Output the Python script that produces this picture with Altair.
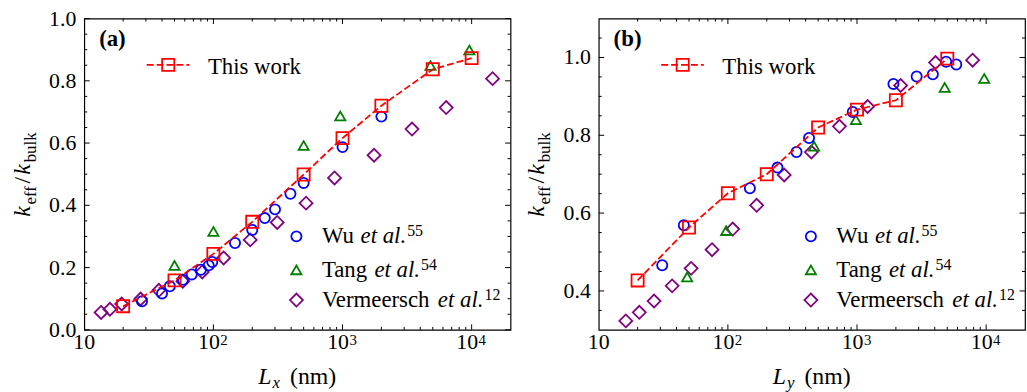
import altair as alt
import pandas as pd

FONT = "Liberation Serif"
W, H = 430, 314
X_DOMAIN = [10, 20000]

# ---------------- panel (a) data ----------------
a_this_x = [20, 50, 100, 200, 500, 1000, 2000, 5000, 10000]
a_this_y = [0.076, 0.159, 0.244, 0.347, 0.499, 0.616, 0.720, 0.837, 0.873]

a_wu_x = [28, 40, 46, 58, 68, 80, 92, 98, 147, 200, 250, 300, 395, 500, 1000, 2000]
a_wu_y = [0.092, 0.117, 0.140, 0.161, 0.178, 0.193, 0.207, 0.218, 0.279, 0.321,
          0.359, 0.387, 0.437, 0.472, 0.587, 0.685]

a_tang_x = [50, 100, 500, 960, 4800, 9600]
a_tang_y = [0.207, 0.316, 0.592, 0.687, 0.849, 0.899]

a_ver_x = [13.5, 15.8, 19.5, 27.3, 37.8, 58, 82, 120, 193, 312, 522, 867, 1754, 3451, 6351, 14520]
a_ver_y = [0.056, 0.066, 0.083, 0.099, 0.127, 0.156, 0.186, 0.231, 0.289, 0.345,
           0.407, 0.488, 0.561, 0.645, 0.714, 0.807]

# ---------------- panel (b) data ----------------
b_this_x = [20, 50, 100, 200, 500, 1000, 2000, 5000]
b_this_y = [0.427, 0.563, 0.651, 0.700, 0.820, 0.866, 0.890, 0.997]

b_wu_x = [31, 45.6, 148, 242, 340, 425, 927, 1914, 2897, 3866, 4900, 5870]
b_wu_y = [0.466, 0.569, 0.664, 0.717, 0.757, 0.793, 0.860, 0.932, 0.951, 0.957, 0.989, 0.982]

b_tang_x = [48.4, 97, 465, 980, 4776, 9660]
b_tang_y = [0.436, 0.555, 0.772, 0.840, 0.923, 0.946]

b_ver_x = [16.2, 20.6, 26.8, 37, 51.9, 75.4, 109, 167, 273, 443, 731, 1208, 2177, 4055, 7855]
b_ver_y = [0.323, 0.345, 0.374, 0.413, 0.458, 0.506, 0.559, 0.620, 0.698, 0.757,
           0.823, 0.874, 0.928, 0.987, 0.993]

# ---------------- axis / legend text ----------------
X_LABEL_POWERS = [100, 1000, 10000]
X_LABEL_EXPS = ["2", "3", "4"]
A_Y_LABELS = [0.0, 0.2, 0.4, 0.6, 0.8, 1.0]
B_Y_LABELS = [0.4, 0.6, 0.8, 1.0]
LEGEND_NAMES = ["Wu", "Tang", "Vermeersch"]
LEGEND_REFS = ["55", "54", "12"]
THIS_WORK = "This work"

RED, BLUE, GREEN, PURPLE = "#ff0000", "#0000ff", "#008000", "#800080"

one = pd.DataFrame({"k": [0]})


def txt(text, x, y, size, italic=False, bold=False, align="left",
        baseline="alphabetic", angle=None, dx=0, dy=0):
    kw = dict(text=text, font=FONT, fontSize=size, align=align,
              baseline=baseline, dx=dx, dy=dy, color="black")
    if italic:
        kw["fontStyle"] = "italic"
    if bold:
        kw["fontWeight"] = "bold"
    if angle is not None:
        kw["angle"] = angle
    return alt.Chart(one).mark_text(**kw).encode(x=alt.value(x), y=alt.value(y))


def seq(segs, x, y, angle=None):
    out, off = [], 0.0
    for t, size, it, shift, adv in segs:
        if angle is None:
            out.append(txt(t, x + off, y + shift, size, italic=it))
        else:
            out.append(txt(t, x, y, size, italic=it, angle=angle, dx=off, dy=shift))
        off += adv
    return out


def log_minor():
    vals = []
    for e in range(1, 5):
        for m in range(2, 10):
            v = m * 10 ** e
            if X_DOMAIN[0] < v < X_DOMAIN[1]:
                vals.append(v)
    return vals


def panel(this_x, this_y, wu_x, wu_y, tang_x, tang_y, ver_x, ver_y,
          ydom, ylabels, letter, sub):
    xs = alt.Scale(type="log", domain=X_DOMAIN, nice=False)
    ys = alt.Scale(domain=ydom, nice=False, zero=False)

    def X(f):
        return alt.X(f, type="quantitative", scale=xs, axis=None)

    def Y(f):
        return alt.Y(f, type="quantitative", scale=ys, axis=None)

    layers = []

    # inward ticks on all four sides
    xmaj = [100, 1000, 10000]
    xmin = log_minor()
    ymaj = [round(v, 2) for v in ylabels]
    ymin = []
    v = ydom[0]
    while v < ydom[1] - 1e-9:
        r = round(v, 2)
        if r > ydom[0] and all(abs(r - m) > 1e-6 for m in ymaj):
            ymin.append(r)
        v += 0.05
    for vals, ln in [(xmaj, 5.5), (xmin, 3)]:
        df = pd.DataFrame({"v": vals})
        layers.append(alt.Chart(df).mark_rule(color="black", strokeWidth=1).encode(
            x=X("v"), y=alt.value(H), y2=alt.value(H - ln)))
        layers.append(alt.Chart(df).mark_rule(color="black", strokeWidth=1).encode(
            x=X("v"), y=alt.value(0), y2=alt.value(ln)))
    for vals, ln in [(ymaj, 5.5), (ymin, 3)]:
        df = pd.DataFrame({"v": vals})
        layers.append(alt.Chart(df).mark_rule(color="black", strokeWidth=1).encode(
            y=Y("v"), x=alt.value(0), x2=alt.value(ln)))
        layers.append(alt.Chart(df).mark_rule(color="black", strokeWidth=1).encode(
            y=Y("v"), x=alt.value(W), x2=alt.value(W - ln)))

    # data
    def pts(x, y, shape, color, size):
        df = pd.DataFrame({"L": x, "k": y})
        return alt.Chart(df).mark_point(shape=shape, filled=False, color=color,
                                        size=size, strokeWidth=1.8, opacity=1).encode(
            x=X("L"), y=Y("k"))

    layers.append(pts(ver_x, ver_y, "diamond", PURPLE, 170))
    layers.append(pts(tang_x, tang_y, "triangle-up", GREEN, 105))
    layers.append(pts(wu_x, wu_y, "circle", BLUE, 105))
    df_this = pd.DataFrame({"L": this_x, "k": this_y})
    layers.append(alt.Chart(df_this).mark_line(color=RED, strokeWidth=1.8,
                                               strokeDash=[7, 3]).encode(x=X("L"), y=Y("k")))
    layers.append(pts(this_x, this_y, "square", RED, 150))

    # y tick labels
    dfy = pd.DataFrame({"v": ylabels, "t": [f"{v:.1f}" for v in ylabels]})
    layers.append(alt.Chart(dfy).mark_text(
        font=FONT, fontSize=22, align="right", baseline="middle", dx=-8, color="black").encode(
        x=alt.value(0), y=Y("v"), text="t:N"))

    # x tick labels
    layers.append(alt.Chart(pd.DataFrame({"v": [10]})).mark_text(
        font=FONT, fontSize=22, align="center", baseline="alphabetic", color="black").encode(
        x=X("v"), y=alt.value(H + 19.5), text=alt.value("10")))
    dfp = pd.DataFrame({"v": X_LABEL_POWERS, "e": X_LABEL_EXPS})
    layers.append(alt.Chart(dfp).mark_text(
        font=FONT, fontSize=22, align="right", baseline="alphabetic", dx=6.5, color="black").encode(
        x=X("v"), y=alt.value(H + 19.5), text=alt.value("10")))
    layers.append(alt.Chart(dfp).mark_text(
        font=FONT, fontSize=15, align="left", baseline="alphabetic", dx=7, color="black").encode(
        x=X("v"), y=alt.value(H + 15), text="e:N"))

    # x title  L_x (nm)
    xt = [("L", 24, True, 0, 14.5), (sub, 17, True, 4, 17.5), ("(nm)", 24, False, 0, 47)]
    total = sum(s[4] for s in xt)
    layers += seq(xt, W / 2 - total / 2, H + 55)

    # y title  k_eff / k_bulk (rotated)
    yt = [("k", 24, True, 0, 12.5), ("eff", 17, False, 6, 21), ("/", 24, False, 0, 9),
          ("k", 24, True, 0, 12.5), ("bulk", 17, False, 6, 31)]
    total = sum(s[4] for s in yt)
    layers += seq(yt, -55, H / 2 + total / 2, angle=270)

    # panel letter
    layers.append(txt(letter, 15, 27.5, 23, bold=True))

    # "This work" legend
    layers.append(alt.Chart(one).mark_rule(color=RED, strokeWidth=1.8, strokeDash=[7, 3]).encode(
        x=alt.value(63), x2=alt.value(106), y=alt.value(46.7)))
    layers.append(alt.Chart(one).mark_point(shape="square", filled=False, color=RED, size=150,
                                            strokeWidth=1.8, opacity=1).encode(
        x=alt.value(84.7), y=alt.value(46.7)))
    layers.append(txt(THIS_WORK, 124.7, 55.5, 23))

    # lower legend
    shapes = [("circle", BLUE, 105), ("triangle-up", GREEN, 105), ("diamond", PURPLE, 170)]
    rows = [219.7, 253.5, 284]
    name_w = {"Wu": 39, "Tang": 53, "Vermeersch": 117}
    for (shape, color, size), name, ref, ry in zip(shapes, LEGEND_NAMES, LEGEND_REFS, rows):
        layers.append(alt.Chart(one).mark_point(shape=shape, filled=False, color=color, size=size,
                                                strokeWidth=1.8, opacity=1).encode(
            x=alt.value(214), y=alt.value(ry)))
        segs = [(name, 23, False, 0, name_w[name]), ("et al.", 23, True, 0, 47),
                (ref, 16, False, -7, 20)]
        layers += seq(segs, 239.7, ry + 7)

    return alt.layer(*layers).properties(width=W, height=H)


pa = panel(a_this_x, a_this_y, a_wu_x, a_wu_y, a_tang_x, a_tang_y, a_ver_x, a_ver_y,
           [0.0, 1.0], A_Y_LABELS, "(a)", "x")
pb = panel(b_this_x, b_this_y, b_wu_x, b_wu_y, b_tang_x, b_tang_y, b_ver_x, b_ver_y,
           [0.3, 1.1], B_Y_LABELS, "(b)", "y")

chart = alt.hconcat(pa, pb, spacing=89, bounds="flush").properties(
    padding={"left": 10, "top": 5, "right": 0, "bottom": 0},
    background="white",
).configure_view(stroke="black", strokeWidth=1.2)

chart.save("out.html", embed_options={"renderer": "svg", "actions": False})
